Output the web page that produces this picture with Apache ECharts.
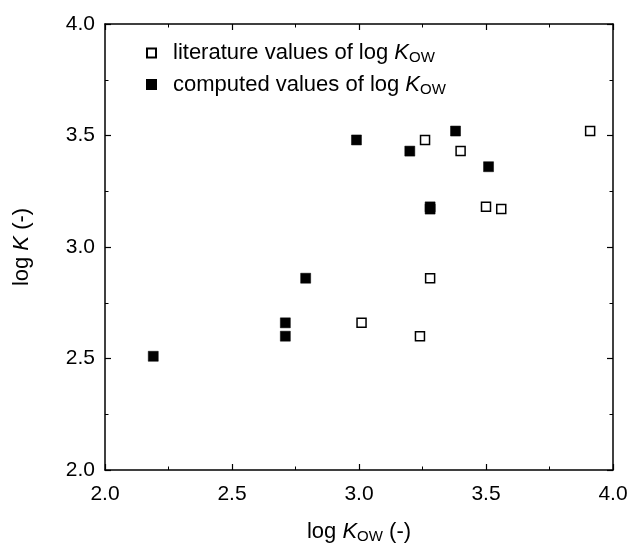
<!DOCTYPE html>
<html>
<head>
<meta charset="utf-8">
<script src="https://cdn.jsdelivr.net/npm/echarts@6/dist/echarts.min.js"></script>
<style>
  html, body { margin: 0; padding: 0; background: #fff; }
  #chart { width: 631px; height: 545px; }
</style>
</head>
<body>
<div id="chart"></div>
<script>
// Partition coefficient log K versus log K_OW
const literatureX = [3.01, 3.24, 3.28, 3.26, 3.40, 3.50, 3.56, 3.91];
const literatureY = [2.66, 2.60, 2.86, 3.48, 3.43, 3.18, 3.17, 3.52];
const computedX = [2.19, 2.71, 2.71, 2.79, 2.99, 3.20, 3.38, 3.51, 3.28, 3.28];
const computedY = [2.51, 2.66, 2.60, 2.86, 3.48, 3.43, 3.52, 3.36, 3.18, 3.17];
const seriesNames = ['literature values of log K_OW', 'computed values of log K_OW'];
const xTicks = [2.0, 2.5, 3.0, 3.5, 4.0];
const yTicks = [2.0, 2.5, 3.0, 3.5, 4.0];

const FONT = 'Liberation Sans, Arial, sans-serif';
const INK = '#000';
const pairs = (xs, ys) => xs.map((x, i) => [x, ys[i]]);

const rich = {
  n: { fontSize: 22, fontFamily: FONT, color: INK },
  i: { fontSize: 22, fontFamily: FONT, fontStyle: 'italic', color: INK },
  s: { fontSize: 15, fontFamily: FONT, color: INK, padding: [10, 0, 0, 0] }
};
// "K_OW" is drawn as an italic K with an upright subscript
const withKow = s => '{n|' + s.replace('K_OW', '}{i|K}{s|OW}');

const chart = echarts.init(document.getElementById('chart'), null, { renderer: 'canvas' });

const axisCommon = {
  type: 'value',
  min: 2.0,
  max: 4.0,
  interval: 0.5,
  axisLine: { show: true, onZero: false, lineStyle: { color: INK, width: 1.5 } },
  axisTick: { show: true, inside: true, length: 6, lineStyle: { color: INK, width: 1.2 } },
  minorTick: { show: true, splitNumber: 2, length: 3.5, lineStyle: { color: INK, width: 1 } },
  splitLine: { show: false }
};
const tickLabel = v => {
  const t = xTicks.concat(yTicks).find(k => Math.abs(k - v) < 1e-9);
  return t === undefined ? '' : t.toFixed(1);
};

chart.setOption({
  animation: false,
  backgroundColor: '#fff',
  grid: { left: 105, right: 18, top: 24, bottom: 75, containLabel: false, outerBoundsMode: 'none' },
  legend: {
    orient: 'vertical',
    left: 141,
    top: 37,
    itemWidth: 9,
    itemHeight: 9,
    itemGap: 8,
    data: seriesNames,
    formatter: withKow,
    textStyle: { fontSize: 22, fontFamily: FONT, color: INK, padding: [0, 0, 0, 12], rich: rich }
  },
  xAxis: [
    Object.assign({}, axisCommon, {
      position: 'bottom',
      name: '{n|log }{i|K}{s|OW}{n| (-)}',
      nameLocation: 'middle',
      nameGap: 49,
      nameTextStyle: { rich: rich },
      axisLabel: { show: true, margin: 14, fontSize: 21, fontFamily: FONT, color: INK, formatter: tickLabel }
    }),
    Object.assign({}, axisCommon, { position: 'top', axisLabel: { show: false } })
  ],
  yAxis: [
    Object.assign({}, axisCommon, {
      position: 'left',
      name: '{n|log }{i|K}{n| (-)}',
      nameLocation: 'middle',
      nameGap: 72,
      nameRotate: 90,
      nameTextStyle: { rich: rich },
      axisLabel: { show: true, margin: 10, fontSize: 21, fontFamily: FONT, color: INK, formatter: tickLabel }
    }),
    Object.assign({}, axisCommon, { position: 'right', axisLabel: { show: false } })
  ],
  series: [
    {
      name: seriesNames[0],
      type: 'scatter',
      symbol: 'rect',
      symbolSize: 9,
      data: pairs(literatureX, literatureY),
      itemStyle: { color: '#fff', borderColor: INK, borderWidth: 1.5, opacity: 1 },
      z: 3
    },
    {
      name: seriesNames[1],
      type: 'scatter',
      symbol: 'rect',
      symbolSize: 10,
      data: pairs(computedX, computedY),
      itemStyle: { color: INK, borderColor: INK, borderWidth: 0.5, opacity: 1 },
      z: 4
    }
  ]
});
</script>
</body>
</html>
